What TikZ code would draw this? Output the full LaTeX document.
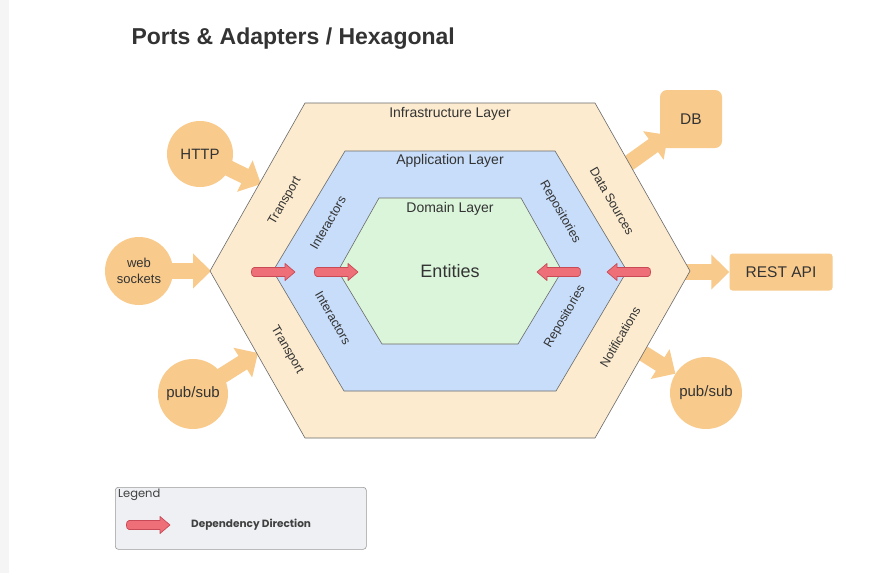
\documentclass[tikz,border=0pt]{standalone}
\usepackage{fontspec}
\setmainfont{Liberation Sans}
\newfontfamily\legendfont{Poppins}
\usetikzlibrary{arrows.meta,backgrounds}
\definecolor{peach}{HTML}{FCEBCF}
\definecolor{appblue}{HTML}{C8DDF9}
\definecolor{domgreen}{HTML}{DAF5DA}
\definecolor{blob}{HTML}{F8CA8C}
\definecolor{redfill}{HTML}{EF6F79}
\definecolor{redline}{HTML}{C84A56}
\definecolor{txt}{HTML}{333333}
\definecolor{edge}{HTML}{6A6A6A}
\definecolor{legendbg}{HTML}{EEF0F3}
\begin{document}
\begin{tikzpicture}[x=1pt,y=-1pt,
  hexedge/.style={draw=edge, line width=0.6pt, line join=round},
  layerlbl/.style={text=txt, font=\fontsize{14}{16}\selectfont, inner sep=0pt},
  sidelbl/.style={text=txt, font=\fontsize{12.5}{14}\selectfont, inner sep=0pt},
  blobc/.style={circle, fill=blob, inner sep=0pt, text=txt, font=\fontsize{15}{17}\selectfont},
  blobr/.style={rectangle, fill=blob, inner sep=0pt, text=txt, font=\fontsize{15.5}{17}\selectfont},
  port/.style={draw=blob, line width=16pt, -{Triangle[length=18pt,width=34pt]}},
  deparrow/.pic={
    \draw[draw=redline, fill=redfill, line width=0.7pt, line join=round]
      (4,-4.5) -- (35,-4.5) -- (35,-8.5) -- (45,0) -- (35,8.5) -- (35,4.5) -- (4,4.5)
      to[out=180,in=180] (4,-4.5) -- cycle;
  }]
\useasboundingbox (0,0) rectangle (889,573);

% title
\node[anchor=west, text=txt, font=\bfseries\fontsize{23}{27}\selectfont] (title) at (128,39) {Ports \& Adapters / Hexagonal};

% external adapters
\node[blobc, minimum size=66pt] (http) at (200,154) {HTTP};
\node[blobc, minimum size=68pt, align=center, font=\fontsize{13}{15.5}\selectfont] (ws) at (139,271) {web\\sockets};
\node[blobc, minimum size=70pt] (pubL) at (193,394) {pub/sub};
\node[blobc, minimum size=72pt] (pubR) at (706,393) {pub/sub};
\node[blobr, minimum width=62pt, minimum height=58pt, rounded corners=7pt] (db) at (691,119) {DB};
\node[blobr, minimum width=103pt, minimum height=37pt, rounded corners=3pt] (rest) at (781,272) {REST API};

\coordinate (hHTTP) at (261,184);
\coordinate (hWS) at (211,271);
\coordinate (hPubL) at (258,353);
\coordinate (hDB) at (622,168);
\coordinate (dbIn) at (668,135);
\coordinate (hREST) at (680,272);
\coordinate (hPubR) at (630,345);

\begin{scope}[on background layer]
\fill[white] (0,0) rectangle (889,573);
\fill[black!4] (0,0) rectangle (9,573);
\draw[port] (http.center) -- (hHTTP);
\draw[port] (ws.center) -- (hWS);
\draw[port] (pubL.center) -- (hPubL);
\draw[port] (hDB) -- (dbIn);
\draw[port] (hREST) -- (rest.west);
\draw[port] (hPubR) -- (pubR);
\end{scope}

% hexagons
\draw[hexedge, fill=peach] (305,103) -- (595,103) -- (690,271) -- (595,438) -- (305,438) -- (210,271) -- cycle;
\draw[hexedge, fill=appblue] (345,151) -- (555,151) -- (627,271) -- (556,391) -- (344,391) -- (273,271) -- cycle;
\draw[hexedge, fill=domgreen] (379,198) -- (521,198) -- (562,271) -- (518,344) -- (382,344) -- (338,271) -- cycle;

% layer labels
\node[layerlbl] (infra) at (450,114) {Infrastructure Layer};
\node[layerlbl] (app) at (450,161) {Application Layer};
\node[layerlbl] (dom) at (450,209) {Domain Layer};
\node[layerlbl, font=\fontsize{18}{20}\selectfont] (ent) at (450,271) {Entities};

% side labels
\node[sidelbl, rotate=60] (tr1) at (285,201) {Transport};
\node[sidelbl, rotate=60] (in1) at (328,223) {Interactors};
\node[sidelbl, rotate=-60] (in2) at (333,318) {Interactors};
\node[sidelbl, rotate=-60] (tr2) at (287,350) {Transport};
\node[sidelbl, rotate=-60] (re1) at (560,212) {Repositories};
\node[sidelbl, rotate=-60] (ds) at (612,201) {Data Sources};
\node[sidelbl, rotate=60] (re2) at (565,317) {Repositories};
\node[sidelbl, rotate=60] (no) at (620,337) {Notifications};

% dependency arrows
\pic at (250,272) {deparrow};
\pic at (313,272) {deparrow};
\pic[rotate=180] at (652,272) {deparrow};
\pic[rotate=180] at (582,272) {deparrow};

% legend
\node[draw=black!40, fill=legendbg, rounded corners=3pt, line width=0.6pt, anchor=north west, minimum width=251pt, minimum height=62pt, inner sep=0pt] (legend) at (115,487) {};
\node[anchor=west, inner sep=0pt, text=black!75, font=\legendfont\fontsize{11.5}{13}\selectfont] (legendtitle) at (118,495) {Legend};
\pic at (125,525) {deparrow};
\node[anchor=west, inner sep=0pt, text=black!75, font=\legendfont\bfseries\fontsize{10.5}{12}\selectfont] (deplbl) at (191,525) {Dependency Direction};
\end{tikzpicture}
\end{document}
